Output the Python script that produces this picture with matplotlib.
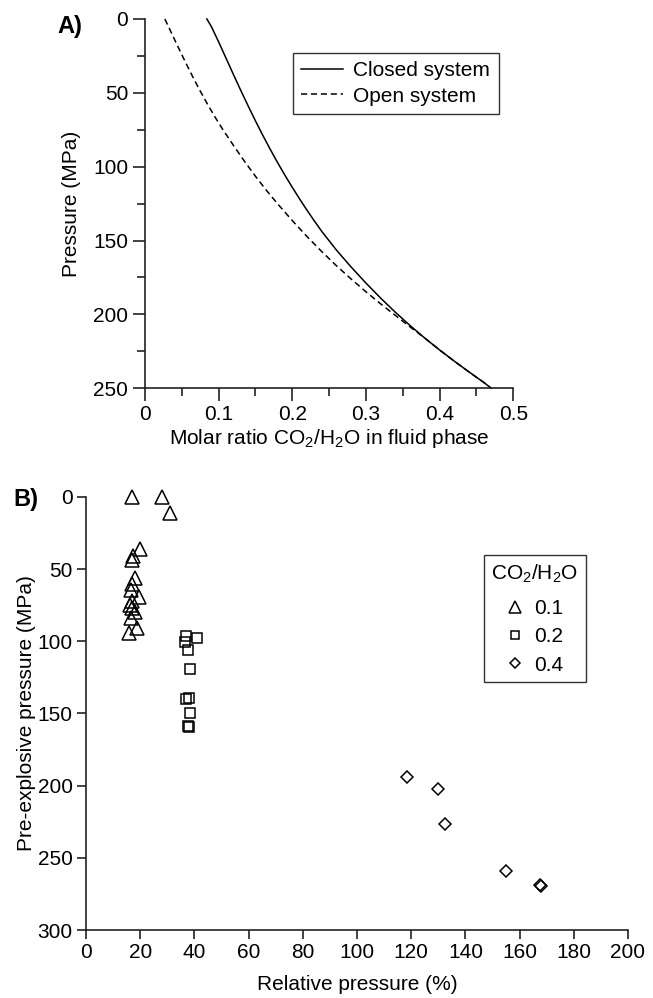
import matplotlib
matplotlib.use("Agg")
import matplotlib.pyplot as plt
from matplotlib.lines import Line2D

plt.rcParams['font.family'] = ['Liberation Sans', 'DejaVu Sans']
plt.rcParams['mathtext.fontset'] = 'custom'
plt.rcParams['mathtext.rm'] = 'Liberation Sans'
plt.rcParams['mathtext.it'] = 'Liberation Sans:italic'
plt.rcParams['mathtext.bf'] = 'Liberation Sans:bold'

# panel A: CO2/H2O molar ratio vs pressure
closed_x = [0.084, 0.090, 0.100, 0.110, 0.120, 0.130, 0.140, 0.150, 0.160, 0.170,
            0.180, 0.190, 0.200, 0.210, 0.220, 0.230, 0.240, 0.260, 0.280, 0.300,
            0.320, 0.340, 0.360, 0.380, 0.400, 0.420, 0.440, 0.460, 0.470]
closed_p = [0, 5, 15.5, 26.5, 37.5, 48.3, 58.8, 69, 78.8, 88.2,
            97.2, 105.8, 114, 121.9, 129.5, 136.8, 143.8, 156.5, 168, 178.8,
            189, 198.6, 207.6, 216.1, 224.1, 231.7, 239, 246.1, 250]
open_x = [0.027, 0.035, 0.045, 0.055, 0.065, 0.075, 0.085, 0.095, 0.105, 0.120,
          0.135, 0.150, 0.165, 0.180, 0.200, 0.220, 0.240, 0.260, 0.280, 0.300,
          0.320, 0.340, 0.360, 0.380, 0.400, 0.420, 0.440, 0.460, 0.470]
open_p = [0, 8.5, 19, 29.3, 39.3, 48.8, 57.8, 66.3, 74.3, 85.5,
          96.3, 106.5, 116.1, 125.1, 136.5, 147.3, 157.5, 167.1, 176.1, 184.7,
          192.9, 200.7, 208.5, 216.1, 224.1, 231.7, 239, 246.1, 250]

a_xticks = [0, 0.1, 0.2, 0.3, 0.4, 0.5]
a_xlabels = ["0", "0.1", "0.2", "0.3", "0.4", "0.5"]
a_yticks = [0, 50, 100, 150, 200, 250]

# panel B: relative pressure (%) vs pre-explosive pressure (MPa)
tri_x = [17, 28, 31, 20, 17.5, 17, 18, 17, 16.5, 19.7, 17, 16.2, 17.1, 18, 16.6, 18.9, 15.9]
tri_p = [0, 0, 11, 36, 41, 44, 56, 60, 64.5, 69, 72, 75, 77, 80, 84, 91, 94.5]
sq_x = [37, 41, 36.5, 37.5, 38.5, 38, 37, 38.5, 37.5, 38]
sq_p = [96, 97.5, 100.5, 106, 119.5, 139, 140, 150, 158.5, 159.5]
dia_x = [118.5, 130, 132.5, 155, 167.5, 168]
dia_p = [194, 202, 226.5, 259, 269, 269.5]

b_xticks = list(range(0, 201, 20))
b_yticks = [0, 50, 100, 150, 200, 250, 300]
ratio_labels = ["0.1", "0.2", "0.4"]

fs = 15
fig = plt.figure(figsize=(6.53, 9.98), dpi=100)
axis_col = "#222222"

def style(ax):
    for s in ['top', 'right']:
        ax.spines[s].set_visible(False)
    for s in ['left', 'bottom']:
        ax.spines[s].set_linewidth(1.2)
        ax.spines[s].set_color(axis_col)
    ax.tick_params(which='major', length=9, width=1.2, color=axis_col, labelsize=fs, pad=3)
    ax.tick_params(which='minor', length=5.5, width=1.2, color=axis_col)

# ---- A ----
axA = fig.add_axes([0.222, 0.611, 0.564, 0.370])
axA.plot(closed_x, closed_p, color='black', lw=1.1, label='Closed system', clip_on=False)
axA.plot(open_x, open_p, color='black', lw=1.1, ls=(0, (4, 2.5)), label='Open system', clip_on=False)
axA.set_xlim(0, 0.5)
axA.set_ylim(250, 0)
axA.set_xticks(a_xticks)
axA.set_xticklabels(a_xlabels)
axA.set_xticks([0.05, 0.15, 0.25, 0.35, 0.45], minor=True)
axA.set_yticks(a_yticks)
axA.set_yticks([25, 75, 125, 175, 225], minor=True)
style(axA)
axA.set_xlabel("Molar ratio CO$_2$/H$_2$O in fluid phase", fontsize=fs, labelpad=2)
axA.set_ylabel("Pressure (MPa)", fontsize=fs, labelpad=9)
legA = axA.legend(loc='upper left', bbox_to_anchor=(0.402, 0.908), borderaxespad=0,
                  frameon=True, fancybox=False, edgecolor='black', fontsize=fs,
                  handlelength=2.0, handletextpad=0.5, labelspacing=0.3, borderpad=0.4)
legA.get_frame().set_linewidth(1.0)
fig.text(0.088, 0.973, "A)", fontsize=17, fontweight='bold', va='center', ha='left')

# ---- B ----
axB = fig.add_axes([0.1317, 0.0681, 0.830, 0.434])
mk = dict(color='black', ls='none', markerfacecolor='none', markeredgewidth=1.1, clip_on=False)
axB.plot(tri_x, tri_p, marker='^', ms=10, **mk)
axB.plot(sq_x, sq_p, marker='s', ms=7, **mk)
axB.plot(dia_x, dia_p, marker='D', ms=6.3, **mk)
axB.set_xlim(0, 200)
axB.set_ylim(300, 0)
axB.set_xticks(b_xticks)
axB.set_yticks(b_yticks)
style(axB)
axB.tick_params(which='major', length=6.5)
axB.set_xlabel("Relative pressure (%)", fontsize=fs, labelpad=9)
axB.set_ylabel("Pre-explosive pressure (MPa)", fontsize=fs, labelpad=1)
handles = [Line2D([], [], marker=m, ms=s, color='black', ls='none',
                  markerfacecolor='none', markeredgewidth=1.1)
           for m, s in zip(['^', 's', 'D'], [8, 6, 5.5])]
legB = axB.legend(handles, ratio_labels, title="CO$_2$/H$_2$O", loc='lower left',
                  bbox_to_anchor=(0.734, 0.573), borderaxespad=0, frameon=True,
                  fancybox=False, edgecolor='black', fontsize=fs, title_fontsize=fs,
                  handlelength=0.9, handletextpad=0.45, labelspacing=0.45, borderpad=0.35)
legB.get_frame().set_linewidth(1.0)
legB._legend_box.sep = 10
fig.text(0.020, 0.499, "B)", fontsize=17, fontweight='bold', va='center', ha='left')

fig.savefig("out.png", dpi=100)
